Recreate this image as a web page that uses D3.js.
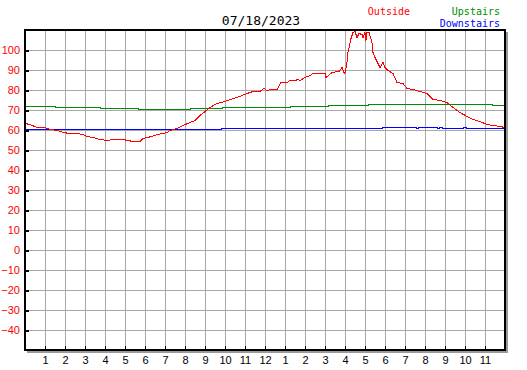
<!DOCTYPE html>
<html><head><meta charset="utf-8">
<script src="https://cdn.jsdelivr.net/npm/d3@7"></script>
<style>body{margin:0;background:#fff}svg{display:block}</style>
</head><body><svg id="c" width="527" height="370"></svg>
<script>
const title = "07/18/2023";
const seriesNames = ["Outside", "Upstairs", "Downstairs"];
const seriesColors = ["#ff0000", "#008c00", "#0000ff"];
const yTicks = [-40,-30,-20,-10,0,10,20,30,40,50,60,70,80,90,100];
const xTickHours = [1,2,3,4,5,6,7,8,9,10,11,12,13,14,15,16,17,18,19,20,21,22,23];
const xTickLabels = ["1","2","3","4","5","6","7","8","9","10","11","12","1","2","3","4","5","6","7","8","9","10","11"];

const outsideHours = [0,0.25,0.6,1.0,1.25,1.65,1.9,2.25,2.6,2.9,3.1,3.4,3.75,4.1,4.4,4.9,5.15,5.4,5.75,5.9,6.1,6.35,6.6,6.9,7.1,7.25,7.6,7.9,8.25,8.5,8.75,9.0,9.25,9.6,9.85,10.25,10.6,11.1,11.4,11.6,11.75,11.95,12.1,12.35,12.6,12.8,13.1,13.25,13.5,13.65,13.75,14.0,14.25,14.4,14.75,15.0,15.05,15.35,15.7,15.85,15.95,16.0,16.1,16.15,16.3,16.4,16.5,16.6,16.7,16.85,16.9,17.0,17.05,17.1,17.2,17.35,17.4,17.5,17.65,17.75,17.9,18.0,18.15,18.4,18.6,18.9,19.1,19.4,19.75,20.1,20.4,20.75,21.1,21.4,21.75,22.1,22.4,22.75,23.1,23.4,23.75,24];
const outsideTemps = [63.5,63,61.7,61.3,60.3,60,59.2,58.7,58.3,57.8,57,56.3,55.5,55,55.3,55.3,55,54.5,54.7,55.8,56.7,57,58,58.3,59.2,60,61.2,62.5,63.8,65,67.5,69.7,71.3,73.3,74.2,75.3,76.7,78.3,79.3,79.5,79.7,81.2,80,80.5,80.7,83.8,84.2,84.8,85,85.7,85,86.3,87.5,88.3,88.7,88.3,86.7,89.2,89.3,91.7,89.2,88.3,94.2,99.2,105.8,108.8,109.5,106.7,108.3,107.8,106.7,108.8,105,108.8,109.2,104.2,99.2,96.7,93.3,91.7,94.2,91.7,90,88.7,84.2,83.7,80.8,80.3,79.7,78.3,75.7,75,74.2,71.3,69.2,67,65.3,64.7,63,62.5,62,61.7];

const upstairsHours = [0,1.5,3.75,5.65,8.25,9.85,13.25,15.15,17.15,23.35,24];
const upstairsTemps = [72,71.5,70.85,70.35,70.85,71.4,72,72.5,73,72.5,72.5];

const downstairsHours = [0,9.8,17.85,19.58,19.68,20.6,20.7,20.85,21.25,21.9,22.05,24];
const downstairsTemps = [60.35,60.85,61.35,60.85,61.35,60.85,61.35,60.85,60.85,61.35,60.85,60.85];

const svg = d3.select("#c");
const x = d3.scaleLinear().domain([0,24]).range([25,505]);
const y = d3.scaleLinear().domain([-50,110]).range([350,30]);

// shadow
svg.append("rect").attr("x",x(0)+2).attr("y",y(110)+2).attr("width",x(24)-x(0)+1).attr("height",y(-50)-y(110)+1)
  .attr("fill","#9a9a9a").attr("shape-rendering","crispEdges");
svg.append("rect").attr("x",x(0)).attr("y",y(110)).attr("width",x(24)-x(0)).attr("height",y(-50)-y(110))
  .attr("fill","#fff").attr("shape-rendering","crispEdges");

// grid
const grid = svg.append("g").attr("stroke","#a8a8a8").attr("stroke-width",1).attr("shape-rendering","crispEdges");
grid.selectAll("line.v").data(xTickHours).join("line").attr("class","v")
  .attr("x1",d=>Math.round(x(d))+0.5).attr("x2",d=>Math.round(x(d))+0.5).attr("y1",y(110)).attr("y2",y(-50));
grid.selectAll("line.h").data(yTicks).join("line").attr("class","h")
  .attr("y1",d=>Math.round(y(d))+0.5).attr("y2",d=>Math.round(y(d))+0.5).attr("x1",x(0)).attr("x2",x(24));

// series
function drawLine(hours, temps, color, curve){
  const pts = hours.map((h,i)=>[h,temps[i]]);
  svg.append("path").datum(pts)
    .attr("d", d3.line().x(d=>x(d[0])).y(d=>Math.round(y(d[1]))+0.5).curve(curve))
    .attr("fill","none").attr("stroke",color).attr("stroke-width",1)
    .attr("shape-rendering","crispEdges");
}
drawLine(upstairsHours, upstairsTemps, seriesColors[1], d3.curveStepAfter);
drawLine(downstairsHours, downstairsTemps, seriesColors[2], d3.curveStepAfter);
drawLine(outsideHours, outsideTemps, seriesColors[0], d3.curveLinear);

// frame
svg.append("rect").attr("x",x(0)).attr("y",y(110)).attr("width",x(24)-x(0)).attr("height",y(-50)-y(110))
  .attr("fill","none").attr("stroke","#000").attr("stroke-width",2).attr("shape-rendering","crispEdges");

// axes
const yAxis = d3.axisLeft(y).tickValues(yTicks).tickSizeInner(-4).tickSizeOuter(0).tickPadding(5).tickFormat(d3.format("d"));
const gy = svg.append("g").attr("transform",`translate(${x(0)},0)`).call(yAxis);
gy.select(".domain").remove();
gy.selectAll("line").attr("stroke","#000").attr("stroke-width",2).attr("shape-rendering","crispEdges");
gy.selectAll("text").attr("fill","#ff0000").attr("font-family","Liberation Sans, Arial, sans-serif").attr("font-size",11);

const xAxis = d3.axisBottom(x).tickValues(xTickHours).tickSizeInner(-4).tickSizeOuter(0).tickPadding(6)
  .tickFormat((d,i)=>xTickLabels[i]);
const gx = svg.append("g").attr("transform",`translate(0,${y(-50)})`).call(xAxis);
gx.select(".domain").remove();
gx.selectAll("line").attr("stroke","#000").attr("stroke-width",1).attr("shape-rendering","crispEdges");
gx.selectAll("text").attr("fill","#000").attr("font-family","Liberation Sans, Arial, sans-serif").attr("font-size",11);

// title
svg.append("text").attr("x",261).attr("y",25).attr("text-anchor","middle")
  .attr("font-family","DejaVu Sans Mono, monospace").attr("font-size",13).attr("fill","#000").text(title);

// legend
const legend = [
  {name:seriesNames[0], color:seriesColors[0], x:410, y:15},
  {name:seriesNames[1], color:seriesColors[1], x:500, y:15},
  {name:seriesNames[2], color:seriesColors[2], x:500, y:27}
];
svg.selectAll("text.leg").data(legend).join("text").attr("class","leg")
  .attr("x",d=>d.x).attr("y",d=>d.y).attr("text-anchor","end")
  .attr("font-family","DejaVu Sans Mono, monospace").attr("font-size",10).attr("fill",d=>d.color)
  .text(d=>d.name);
</script></body></html>
